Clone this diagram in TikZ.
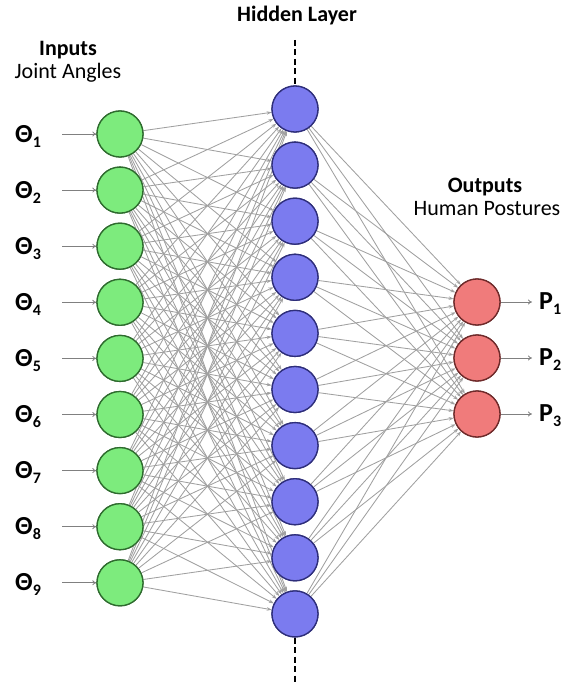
\documentclass[tikz,border=0pt]{standalone}
\usepackage{fontspec}
\setmainfont{Carlito}
\usetikzlibrary{arrows.meta}
\definecolor{ingreen}{HTML}{7DEB7D}
\definecolor{ingreenB}{HTML}{2E6B2E}
\definecolor{hidblue}{HTML}{7B7BEF}
\definecolor{hidblueB}{HTML}{2E2E7A}
\definecolor{outred}{HTML}{F07B7B}
\definecolor{outredB}{HTML}{6E2A2A}
\definecolor{wire}{HTML}{A0A0A0}
\tikzset{
  neuron/.style={circle, minimum size=46pt, inner sep=0pt, line width=1.3pt},
  innode/.style={neuron, fill=ingreen, draw=ingreenB},
  hidnode/.style={neuron, fill=hidblue, draw=hidblueB},
  outnode/.style={neuron, fill=outred, draw=outredB},
  wirearrow/.style={draw=wire, line width=0.85pt, -{Stealth[length=5pt,width=3.5pt]}},
  ioarrow/.style={draw=wire!80!black, line width=0.8pt, -{To[length=4pt,width=5pt]}},
  title/.style={font=\fontsize{22}{24}\selectfont\bfseries, inner sep=0pt},
  subtitle/.style={font=\fontsize{22}{24}\selectfont, inner sep=0pt},
  varlabel/.style={font=\fontsize{26}{28}\selectfont\bfseries, inner sep=0pt, anchor=west},
  layerdash/.style={draw=black, line width=2.6pt, dash pattern=on 6pt off 3.5pt}
}
\begin{document}
\begin{tikzpicture}[x=1pt,y=-1pt]
\useasboundingbox (0,0) rectangle (567,684);
% nodes
\foreach \i in {1,...,9} {
  \node[innode] (I\i) at (120, {134+56.1*(\i-1)}) {};
  \node[varlabel] (L\i) at (15, {136+56.1*(\i-1)}) {Θ\raisebox{-0.4ex}{\fontsize{16}{18}\selectfont\i}};
  \coordinate (A\i) at (62, {134+56.1*(\i-1)});
  \draw[ioarrow] (A\i) -- (I\i.west);
}
\foreach \j in {1,...,10} {
  \node[hidnode] (H\j) at (295, {109+56.1*(\j-1)}) {};
}
\foreach \k in {1,2,3} {
  \node[outnode] (O\k) at (477, {302+56*(\k-1)}) {};
  \coordinate (B\k) at (532, {302+56*(\k-1)});
  \node[varlabel] (Q\k) at (539, {304+56*(\k-1)}) {P\raisebox{-0.4ex}{\fontsize{16}{18}\selectfont\k}};
  \draw[ioarrow] (O\k.east) -- (B\k);
}
% connections
\foreach \i in {1,...,9} {
  \foreach \j in {1,...,10} {
    \draw[wirearrow] (I\i) -- (H\j);
  }
}
\foreach \j in {1,...,10} {
  \foreach \k in {1,2,3} {
    \draw[wirearrow] (H\j) -- (O\k);
  }
}
% redraw nodes on top
\foreach \i in {1,...,9} { \node[innode] at (I\i) {}; }
\foreach \j in {1,...,10} { \node[hidnode] at (H\j) {}; }
\foreach \k in {1,2,3} { \node[outnode] at (O\k) {}; }
% dashed layer line
\coordinate (DT) at (295, 40);
\coordinate (DB) at (295, 684);
\draw[layerdash] (DT) -- (H1.north);
\draw[layerdash] (H10.south) -- (DB);
% titles
\node[title] (hidtitle) at (297, 16) {Hidden Layer};
\node[title] (intitle) at (68, 50) {Inputs};
\node[subtitle] (insub) at (68, 73) {Joint Angles};
\node[title] (outtitle) at (485, 187) {Outputs};
\node[subtitle] (outsub) at (487, 209) {Human Postures};
\end{tikzpicture}
\end{document}
